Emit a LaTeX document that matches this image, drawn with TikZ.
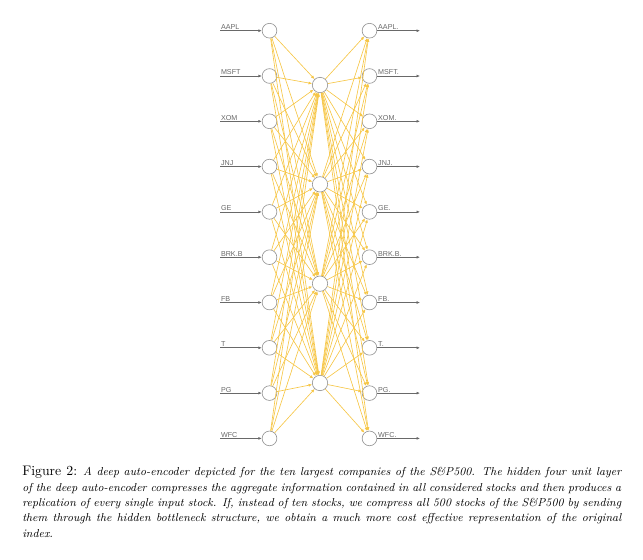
\documentclass[tikz,border=0pt]{standalone}
\usepackage{fontspec}
\newfontfamily\labfont{Liberation Sans}
\usetikzlibrary{arrows.meta}
\definecolor{edgeyellow}{RGB}{246,198,70}
\definecolor{labgray}{RGB}{105,105,105}
\definecolor{ringgray}{RGB}{150,150,150}
\begin{document}
\begin{tikzpicture}[x=0.78125pt,y=-0.78125pt,
  unit/.style={circle,draw=ringgray,line width=0.5pt,minimum size=11.5pt,inner sep=0pt,fill=white},
  hid/.style={unit,minimum size=12pt},
  edge/.style={draw=edgeyellow,line width=0.5pt,-{Latex[length=2.8pt,width=2.4pt]}},
  io/.style={draw=labgray,line width=0.5pt,-{Latex[length=2.6pt,width=2.2pt]}},
  lab/.style={font=\labfont\fontsize{5.6}{6}\selectfont,text=labgray,inner sep=0.6pt,anchor=south west}]
\useasboundingbox (0,0) rectangle (643,559);
\foreach \n [count=\i] in {AAPL,MSFT,XOM,JNJ,GE,BRK.B,FB,T,PG,WFC} {
  \pgfmathsetmacro\yy{30.7+45.3*(\i-1)}
  \node[unit] (in\i) at (269.5,\yy) {};
  \node[unit] (out\i) at (369.5,\yy) {};
  \coordinate (src\i) at (220,\yy);
  \coordinate (dst\i) at (420,\yy);
  \draw[io] (src\i) -- (in\i);
  \draw[io] (out\i) -- (dst\i);
  \node[lab] (lin\i) at (src\i) {\n};
  \node[lab] (lout\i) at (out\i.east) {\n.};
}
\foreach \j in {1,...,4} {
  \pgfmathsetmacro\hy{85+99.33*(\j-1)}
  \node[hid] (h\j) at (320,\hy) {};
}
\foreach \i in {1,...,10} {
  \foreach \j in {1,...,4} {
    \draw[edge] (in\i) -- (h\j);
    \draw[edge] (h\j) -- (out\i);
  }
}
\node[anchor=north west,text width=468pt,inner sep=0pt,align=justify,font=\fontsize{9.0}{12}\selectfont] (cap) at (22,466)
  {{\fontsize{10.8}{12}\selectfont Figure 2:} \textit{A deep auto-encoder depicted for the ten largest companies of the S\&P500. The hidden four unit layer\linebreak of the deep auto-encoder compresses the aggregate information contained in all considered stocks and then produces a\linebreak replication of every single input stock. If, instead of ten stocks, we compress all 500 stocks of the S\&P500 by sending\linebreak them through the hidden bottleneck structure, we obtain a much more cost effective representation of the original\linebreak index.}};
\end{tikzpicture}
\end{document}
